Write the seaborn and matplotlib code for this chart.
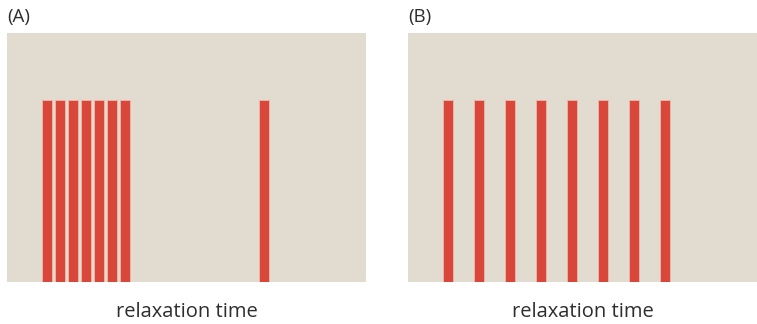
import matplotlib
matplotlib.use("Agg")
import matplotlib.pyplot as plt
import pandas as pd
import seaborn as sns

# Relaxation times of the individual modes (arbitrary units)
times_a = [4.0, 5.3, 6.6, 7.9, 9.2, 10.5, 11.8, 25.7]
times_b = [4.0, 7.1, 10.2, 13.3, 16.4, 19.5, 22.6, 25.7]
weight_a = [1, 1, 1, 1, 1, 1, 1, 1]
weight_b = [1, 1, 1, 1, 1, 1, 1, 1]
panel_labels = ["(A)", "(B)"]
axis_label = "relaxation time"

BG = "#E2DBD0"
BAR = "#D9463A"
EDGE = "#EDB8AC"
INK = "#2E2E2E"

sns.set_theme(style="white")
plt.rcParams["font.family"] = ["Open Sans", "DejaVu Sans"]

W, H = 757, 324
fig = plt.figure(figsize=(W / 100, H / 100), dpi=100)

# axes boxes in pixels: left, right, top, bottom
boxes = [(7, 366, 33, 282), (408, 757, 33, 282)]
xmax = [35.9, 34.9]
bar_w = [1.0 / 1.3, 1.0 / 3.1]
data = [(times_a, weight_a), (times_b, weight_b)]

for i, ((l, r, t, b), (tx, wy)) in enumerate(zip(boxes, data)):
    ax = fig.add_axes([l / W, 1 - b / H, (r - l) / W, (b - t) / H])
    ax.set_facecolor(BG)
    df = pd.DataFrame({"time": tx, "weight": wy})
    sns.barplot(data=df, x="time", y="weight", native_scale=True,
                width=bar_w[i], color=BAR, saturation=1, edgecolor=EDGE,
                linewidth=0.6, errorbar=None, ax=ax)
    ax.set_xlim(0, xmax[i])
    ax.set_ylim(0, 1.0 / 0.731)
    ax.set_xticks([])
    ax.set_yticks([])
    ax.set_xlabel("")
    ax.set_ylabel("")
    for s in ax.spines.values():
        s.set_visible(False)
    fig.text(l / W, 1 - 17 / H, panel_labels[i], fontsize=13.5,
             color=INK, ha="left", va="center")
    fig.text((l + r) / 2 / W, 1 - 312 / H, axis_label, fontsize=14.5,
             color=INK, ha="center", va="center")

fig.savefig("out.png", dpi=100, facecolor="white")
